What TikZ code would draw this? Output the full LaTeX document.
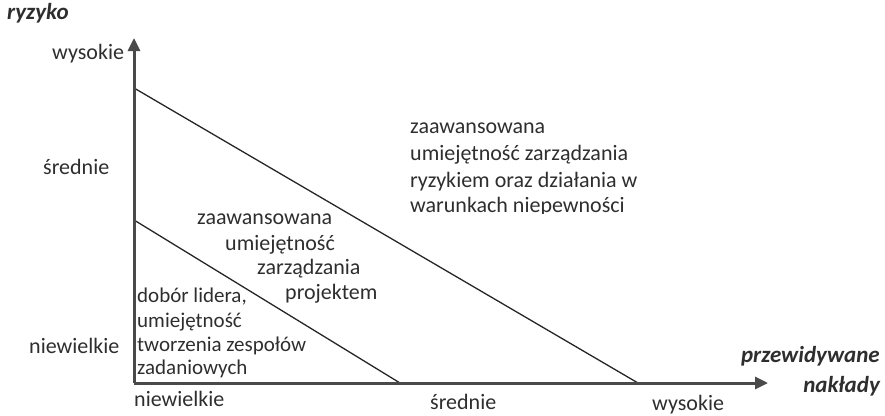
\documentclass[tikz,border=0pt]{standalone}
\usepackage{fontspec}
\setmainfont{Carlito}
\usetikzlibrary{arrows.meta}
\definecolor{txt}{HTML}{2E2E2E}
\definecolor{axc}{HTML}{4A4A4A}
\tikzset{
  lbl/.style={font=\fontsize{22}{26}\selectfont, inner sep=0pt, text=txt},
  lowlbl/.style={font=\fontsize{21}{24}\selectfont, inner sep=0pt, text=txt},
  ttl/.style={font=\fontsize{23}{27}\selectfont\bfseries\itshape, inner sep=0pt, text=txt},
  axis/.style={draw=axc, line width=3pt, -{Triangle[length=13pt,width=12pt]}},
  bound/.style={draw=black!85, line width=1.3pt},
}
\begin{document}
\begin{tikzpicture}[x=1pt,y=-1pt]
\useasboundingbox (0,0) rectangle (885,415);
\coordinate (O) at (134,383);
\coordinate (Ytip) at (134,38);
\coordinate (Xtip) at (768,383);
\coordinate (A) at (134,88);
\coordinate (B) at (638,383);
\coordinate (C) at (134,220);
\coordinate (D) at (400,383);
% boundary lines
\draw[bound] (A) -- (B);
\draw[bound] (C) -- (D);
% axes
\draw[axis] (O) -- (Ytip);
\draw[axis] (O) -- (Xtip);
% axis titles
\node[ttl, anchor=mid west] (ry) at (7,17) {ryzyko};
\node[ttl, anchor=mid east] (pn1) at (880,360) {przewidywane};
\node[ttl, anchor=mid east] (pn2) at (880,390) {nakłady};
% y labels
\node[lbl, anchor=mid west] (yw) at (52,57) {wysokie};
\node[lbl, anchor=mid west] (ys) at (43,172) {średnie};
\node[lbl, anchor=mid west] (yn) at (29,351) {niewielkie};
% x labels
\node[lbl, anchor=mid west] (xn) at (134,404) {niewielkie};
\node[lbl, anchor=mid west] (xs) at (430,407) {średnie};
\node[lbl, anchor=mid west] (xw) at (652,408) {wysokie};
% high region text
\node[lbl, anchor=mid west] (h1) at (410,131) {zaawansowana};
\node[lbl, anchor=mid west] (h2) at (410,158) {umiejętność zarządzania};
\node[lbl, anchor=mid west] (h3) at (410,185) {ryzykiem oraz działania w};
\begin{scope}
\clip (400,195) rectangle (700,213);
\node[lbl, anchor=mid west] (h4) at (410,210.5) {warunkach niepewności};
\end{scope}
% middle region text
\node[lbl, anchor=mid west] (m1) at (197,222) {zaawansowana};
\node[lbl, anchor=mid west] (m2) at (225,248) {umiejętność};
\node[lbl, anchor=mid west] (m3) at (257,272) {zarządzania};
\node[lbl, anchor=mid west] (m4) at (285,297) {projektem};
% low region text
\node[lowlbl, anchor=mid west] (l1) at (137,300) {dobór lidera,};
\node[lowlbl, anchor=mid west] (l2) at (137,325) {umiejętność};
\node[lowlbl, anchor=mid west] (l3) at (137,349) {tworzenia zespołów};
\node[lowlbl, anchor=mid west] (l4) at (137,372) {zadaniowych};
\end{tikzpicture}
\end{document}
